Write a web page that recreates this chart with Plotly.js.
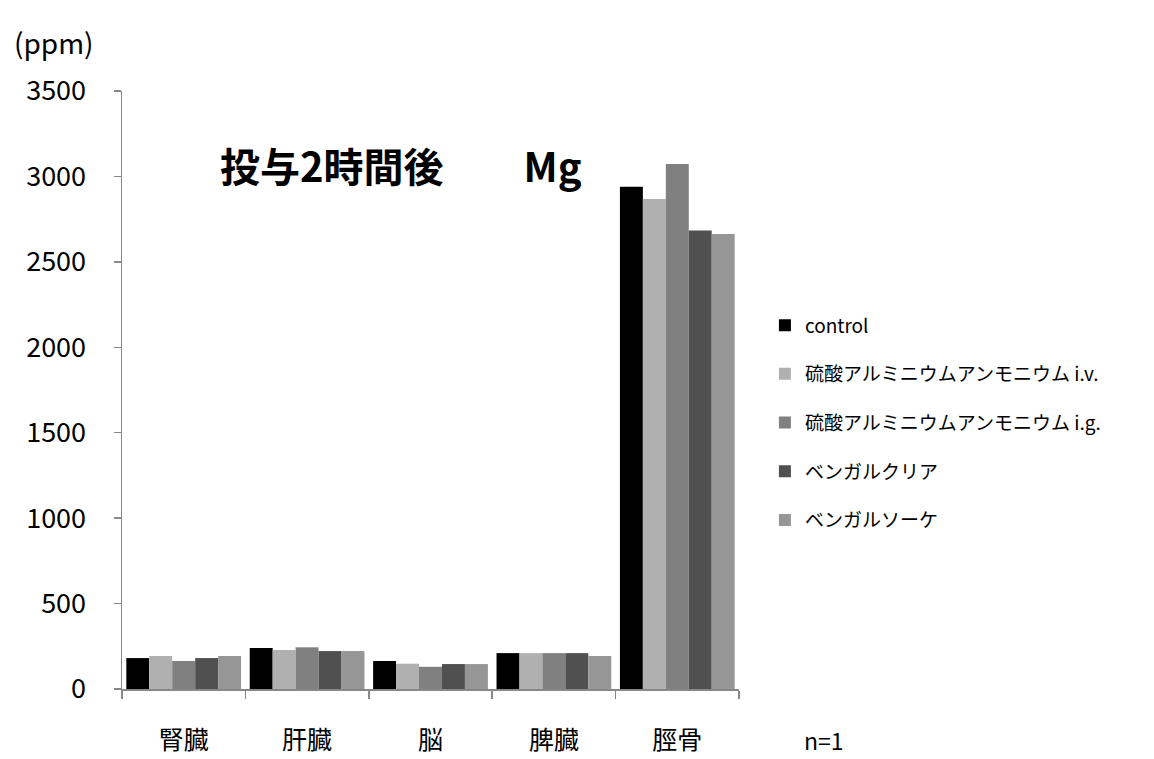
<!DOCTYPE html>
<html><head><meta charset="utf-8">
<script src="https://cdn.plot.ly/plotly-3.0.1.min.js"></script>
<style>html,body{margin:0;padding:0;background:#fff}#chart{width:1154px;height:759px}</style>
</head><body><div id="chart"></div>
<script>
const categories = ['腎臓', '肝臓', '脳', '脾臓', '脛骨'];
const seriesNames = ['control', '硫酸アルミニウムアンモニウム i.v.', '硫酸アルミニウムアンモニウム i.g.', 'ベンガルクリア', 'ベンガルソーケ'];
const control = [181, 240, 164, 210, 2940];
const almIv = [193, 228, 148, 210, 2868];
const almIg = [164, 244, 130, 210, 3073];
const bengalClear = [181, 222, 146, 210, 2683];
const bengalSoke = [193, 222, 146, 193, 2663];
const yTicks = [0, 500, 1000, 1500, 2000, 2500, 3000, 3500];
const colors = ['#000000', '#b0b0b0', '#808080', '#505050', '#969696'];

const allSeries = [control, almIv, almIg, bengalClear, bengalSoke];
const font = 'Noto Sans CJK JP, sans-serif';
const traces = allSeries.map((vals, i) => ({
  type: 'bar', x: categories, y: vals, name: seriesNames[i],
  legendgroup: 'g' + i,
  marker: {color: colors[i], line: {width: 0}}
}));

const layout = {
  width: 1154, height: 759,
  margin: {l: 122, r: 415, t: 91, b: 70},
  paper_bgcolor: '#fff', plot_bgcolor: '#fff',
  barmode: 'group', bargap: 0.07, bargroupgap: 0,
  showlegend: true,
  legend: {x: 1.042, y: 0.64, xanchor: 'left', yanchor: 'top',
    font: {family: font, size: 19, color: '#000'}, tracegroupgap: 21,
    itemwidth: 30, bgcolor: 'rgba(0,0,0,0)'},
  xaxis: {type: 'category', showline: true, linecolor: '#888', linewidth: 1.5,
    ticks: 'outside', tickson: 'boundaries', ticklen: 8, tickcolor: '#888', tickwidth: 1.5,
    ticklabelstandoff: 28,
    tickfont: {family: font, size: 25, color: '#000'}, showgrid: false, zeroline: false},
  yaxis: {range: [0, 3500], tickvals: yTicks, ticktext: yTicks.map(String),
    showline: true, linecolor: '#888', linewidth: 1.5,
    ticks: 'outside', ticklen: 7, tickcolor: '#888', tickwidth: 1.5,
    ticklabelstandoff: 22,
    tickfont: {family: font, size: 27, color: '#000'}, showgrid: false, zeroline: false},
  annotations: [
    {text: '<b>投与2時間後　　Mg</b>', xref: 'paper', yref: 'paper', x: (401 - 122) / 617, y: (689 - 165) / 598,
     xanchor: 'center', yanchor: 'middle', showarrow: false, font: {family: font, size: 40, color: '#000'}},
    {text: '(ppm)', xref: 'paper', yref: 'paper', x: (12 - 122) / 617, y: (689 - 42) / 598,
     xanchor: 'left', yanchor: 'middle', showarrow: false, font: {family: font, size: 28, color: '#000'}},
    {text: 'n=1', xref: 'paper', yref: 'paper', x: (802 - 122) / 617, y: (689 - 740) / 598,
     xanchor: 'left', yanchor: 'middle', showarrow: false, font: {family: font, size: 23, color: '#000'}}
  ]
};
Plotly.newPlot('chart', traces, layout, {displayModeBar: false, staticPlot: true});
</script></body></html>
